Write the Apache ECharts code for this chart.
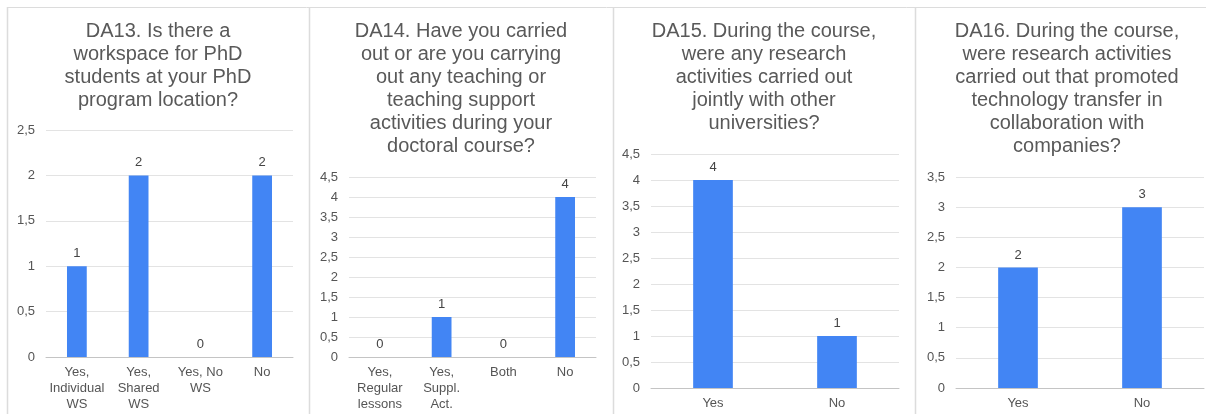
<!DOCTYPE html>
<html>
<head>
<meta charset="utf-8">
<script src="https://cdn.jsdelivr.net/npm/echarts@6/dist/echarts.min.js"></script>
<style>
    html, body { margin: 0; padding: 0; background: #fff; }
    #chart { width: 1206px; height: 414px; }
</style>
</head>
<body>
<div id="chart"></div>
<script>
    // data
    const titles = [
        'DA13. Is there a\nworkspace for PhD\nstudents at your PhD\nprogram location?',
        'DA14. Have you carried\nout or are you carrying\nout any teaching or\nteaching support\nactivities during your\ndoctoral course?',
        'DA15. During the course,\nwere any research\nactivities carried out\njointly with other\nuniversities?',
        'DA16. During the course,\nwere research activities\ncarried out that promoted\ntechnology transfer in\ncollaboration with\ncompanies?'
    ]
    const cats13 = ['Yes,\nIndividual\nWS', 'Yes,\nShared\nWS', 'Yes, No\nWS', 'No']
    const vals13 = [1, 2, 0, 2]
    const cats14 = ['Yes,\nRegular\nlessons', 'Yes,\nSuppl.\nAct.', 'Both', 'No']
    const vals14 = [0, 1, 0, 4]
    const cats15 = ['Yes', 'No']
    const vals15 = [4, 1]
    const cats16 = ['Yes', 'No']
    const vals16 = [2, 3]
    const yMax = [2.5, 4.5, 4.5, 3.5]

    const cats = [cats13, cats14, cats15, cats16]
    const vals = [vals13, vals14, vals15, vals16]

    // layout of the four panels
    const panelX = [7, 309, 613, 915]
    const titleX = [158, 461, 764, 1067]
    const grids = [
        { left: 46, top: 130, width: 247, height: 227 },
        { left: 349, top: 177, width: 247, height: 180 },
        { left: 651, top: 154, width: 248, height: 234 },
        { left: 956, top: 177, width: 248, height: 211 }
    ]

    const font = 'Arial, "Liberation Sans", sans-serif'
    const chart = echarts.init(document.getElementById('chart'))

    const option = {
        animation: false,
        textStyle: { fontFamily: font },
        title: [],
        grid: [],
        xAxis: [],
        yAxis: [],
        series: [],
        graphic: []
    }

    titles.forEach((t, i) => {
        option.title.push({
            text: t,
            left: titleX[i],
            top: 20,
            padding: 0,
            textAlign: 'center',
            textStyle: {
                fontFamily: font,
                fontSize: 20,
                fontWeight: 'normal',
                lineHeight: 23,
                color: '#595959'
            }
        })
        option.grid.push(grids[i])
        option.xAxis.push({
            type: 'category',
            gridIndex: i,
            data: cats[i],
            axisTick: { show: false },
            axisLine: { lineStyle: { color: '#c4c4c4' } },
            axisLabel: {
                interval: 0,
                margin: 7,
                fontSize: 13,
                lineHeight: 16,
                color: '#555',
                fontFamily: font
            }
        })
        option.yAxis.push({
            type: 'value',
            gridIndex: i,
            min: 0,
            max: yMax[i],
            interval: 0.5,
            axisLine: { show: false },
            axisTick: { show: false },
            splitLine: { lineStyle: { color: '#e3e3e3' } },
            axisLabel: {
                margin: 11,
                fontSize: 13,
                color: '#555',
                fontFamily: font,
                formatter: v => String(v).replace('.', ',')
            }
        })
        option.series.push({
            type: 'bar',
            xAxisIndex: i,
            yAxisIndex: i,
            data: vals[i],
            barWidth: '32%',
            itemStyle: { color: '#4285f4' },
            label: {
                show: true,
                position: 'top',
                distance: 6,
                fontSize: 13,
                color: '#444',
                fontFamily: font
            }
        })
    })

    // panel borders
    option.graphic.push({
        type: 'line',
        shape: { x1: 7, y1: 7.5, x2: 1206, y2: 7.5 },
        style: { stroke: '#dcdcdc', lineWidth: 1 }
    })
    panelX.forEach(x => {
        option.graphic.push({
            type: 'line',
            shape: { x1: x + 0.5, y1: 7, x2: x + 0.5, y2: 414 },
            style: { stroke: '#dcdcdc', lineWidth: 1.5 }
        })
    })

    chart.setOption(option)
</script>
</body>
</html>
